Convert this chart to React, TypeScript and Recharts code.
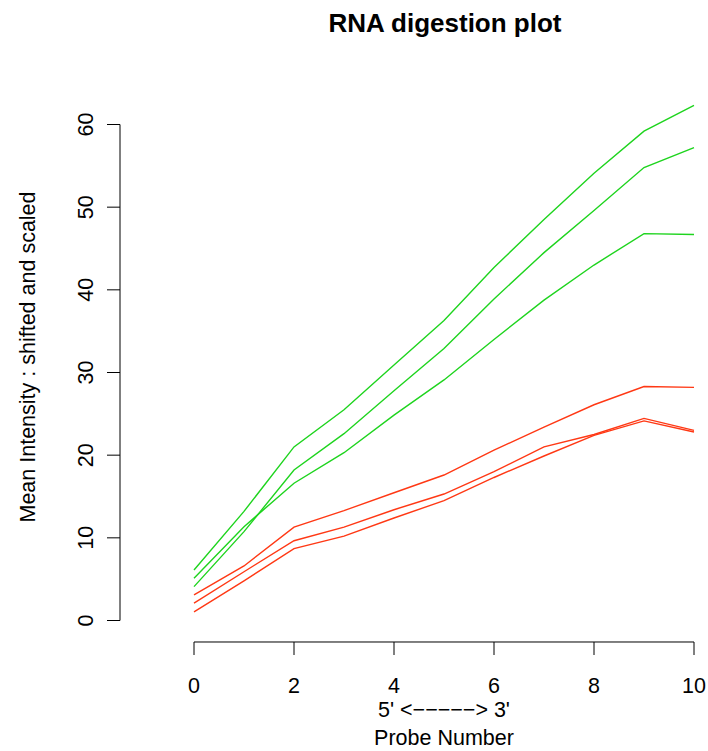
import { LineChart, Line, XAxis, YAxis, ReferenceLine } from 'recharts';

// probe positions along the transcript
const probes = [0, 1, 2, 3, 4, 5, 6, 7, 8, 9, 10];

// green arrays
const green1 = [6.1, 13.2, 21.0, 25.5, 30.9, 36.3, 42.7, 48.5, 54.1, 59.2, 62.3];
const green2 = [5.1, 11.35, 16.6, 20.3, 24.85, 29.1, 34.0, 38.75, 43.0, 46.8, 46.7];
const green3 = [4.1, 10.75, 18.2, 22.6, 27.8, 32.9, 38.9, 44.5, 49.6, 54.8, 57.2];

// red arrays
const red1 = [3.1, 6.6, 11.3, 13.3, 15.45, 17.6, 20.6, 23.4, 26.1, 28.3, 28.2];
const red2 = [2.1, 5.9, 9.65, 11.3, 13.4, 15.3, 18.0, 21.0, 22.5, 24.45, 23.0];
const red3 = [1.05, 4.8, 8.7, 10.2, 12.4, 14.5, 17.3, 19.9, 22.4, 24.15, 22.8];

const xTicks = [0, 2, 4, 6, 8, 10];
const yTicks = [0, 10, 20, 30, 40, 50, 60];

const GREEN = '#1ed41e';
const RED = '#ff3814';
const FONT = '"Liberation Sans", Arial, Helvetica, sans-serif';
const FS = 21.5;

const series = [
  { key: 'g1', values: green1, color: GREEN },
  { key: 'g2', values: green2, color: GREEN },
  { key: 'g3', values: green3, color: GREEN },
  { key: 'r1', values: red1, color: RED },
  { key: 'r2', values: red2, color: RED },
  { key: 'r3', values: red3, color: RED },
];

const data = probes.map((x, i) => {
  const row: Record<string, number> = { x };
  series.forEach((s) => {
    row[s.key] = s.values[i];
  });
  return row;
});

// R style detached axes: ticks drawn away from the plot region
const XTick = (props: any) => {
  const { x, y, payload } = props;
  return (
    <g>
      <line x1={x} x2={x} y1={y + 21.5} y2={y + 34.5} stroke="#000" strokeWidth={1} />
      <text x={x} y={y + 72} textAnchor="middle" fontSize={FS} fontFamily={FONT} fill="#000">
        {payload.value}
      </text>
    </g>
  );
};

const YTick = (props: any) => {
  const { x, y, payload } = props;
  return (
    <g>
      <line x1={x - 74} x2={x - 87} y1={y} y2={y} stroke="#000" strokeWidth={1} />
      <text
        x={x - 101}
        y={y}
        transform={`rotate(-90, ${x - 101}, ${y})`}
        textAnchor="middle"
        fontSize={FS}
        fontFamily={FONT}
        fill="#000"
      >
        {payload.value}
      </text>
    </g>
  );
};

export default function App() {
  return (
    <div style={{ position: 'absolute', left: 0, top: 0, width: 708, height: 751, background: '#fff' }}>
      <LineChart
        width={708}
        height={751}
        data={data}
        margin={{ top: 74.9, right: 14, bottom: 100.5, left: 120 }}
      >
        <XAxis
          dataKey="x"
          type="number"
          domain={[0, 10]}
          ticks={xTicks}
          axisLine={false}
          tickLine={false}
          tickSize={0}
          tickMargin={0}
          height={30}
          tick={<XTick />}
          interval={0}
        />
        <YAxis
          type="number"
          domain={[0, 66]}
          ticks={yTicks}
          axisLine={false}
          tickLine={false}
          tickSize={0}
          tickMargin={0}
          width={74}
          tick={<YTick />}
          interval={0}
        />
        <ReferenceLine
          segment={[{ x: 0, y: -2.6 }, { x: 10, y: -2.6 }]}
          stroke="#000"
          strokeWidth={1}
          ifOverflow="visible"
        />
        <ReferenceLine
          segment={[{ x: -1.48, y: 0 }, { x: -1.48, y: 60 }]}
          stroke="#000"
          strokeWidth={1}
          ifOverflow="visible"
        />
        {series.map((s) => (
          <Line
            key={s.key}
            dataKey={s.key}
            type="linear"
            stroke={s.color}
            strokeWidth={1.4}
            dot={false}
            activeDot={false}
            isAnimationActive={false}
          />
        ))}
      </LineChart>
      <svg
        width={708}
        height={751}
        style={{ position: 'absolute', left: 0, top: 0, pointerEvents: 'none' }}
      >
        <text x={445} y={31.5} textAnchor="middle" fontSize={26} fontWeight="bold" fontFamily={FONT} fill="#000">
          RNA digestion plot
        </text>
        <text x={444} y={717} textAnchor="middle" fontSize={FS} fontFamily={FONT} fill="#000">
          5' &lt;−−−−−&gt; 3'
        </text>
        <text x={444} y={745} textAnchor="middle" fontSize={FS} fontFamily={FONT} fill="#000">
          Probe Number
        </text>
        <text
          x={35}
          y={357}
          transform="rotate(-90, 35, 357)"
          textAnchor="middle"
          fontSize={FS}
          fontFamily={FONT}
          fill="#000"
        >
          Mean Intensity : shifted and scaled
        </text>
      </svg>
    </div>
  );
}
